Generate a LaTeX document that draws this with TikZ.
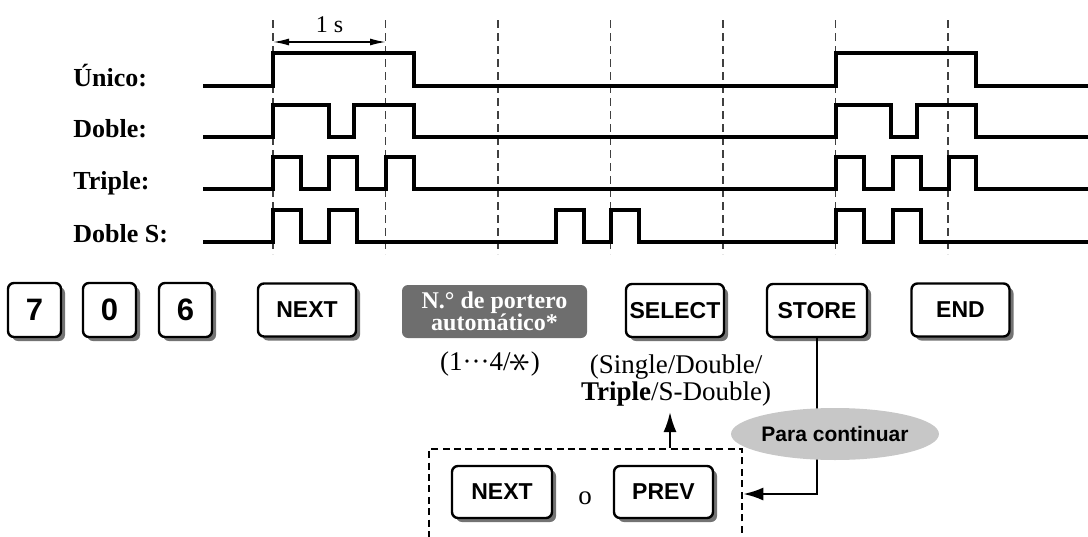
\documentclass[tikz,border=0pt]{standalone}
\usepackage{fontspec}
\setmainfont{Liberation Serif}
\setsansfont{Liberation Sans}
\usepackage{graphicx}
\usepackage{tikz}
\usetikzlibrary{arrows.meta, shapes.geometric, shadows}

\begin{document}
\begin{tikzpicture}[x=0.5pt, y=-0.5pt,
    wave/.style={line width=2pt},
    grid/.style={black!75, line width=0.8pt, dash pattern=on 4pt off 2.5pt},
    lbl/.style={font=\bfseries\fontsize{13}{13}\selectfont, anchor=base west, inner sep=0pt},
    txt/.style={font=\fontsize{13.5}{13.5}\selectfont, inner sep=1pt},
    key/.style={draw, line width=1.2pt, rounded corners=3pt, fill=white,
        font=\sffamily\bfseries\fontsize{11.5}{12}\selectfont,
        minimum width=49pt, minimum height=26.5pt, inner sep=0pt,
        drop shadow={shadow xshift=2pt, shadow yshift=-2pt, fill=black!55, opacity=1}},
    digit/.style={key, font=\sffamily\bfseries\fontsize{15.5}{16}\selectfont,
        minimum width=26.5pt, minimum height=27pt},
    arr/.style={line width=1.1pt, -{Latex[length=10pt, width=6.5pt]}}]
    \useasboundingbox (0,0) rectangle (1088,536);

    % Time grid
    \foreach \i in {0,...,6}
        \draw[grid] (273+112.5*\i, 20) -- (273+112.5*\i, 254);
    \draw[line width=0.8pt, {Latex[length=8pt, width=3.5pt]}-{Latex[length=8pt, width=3.5pt]}] (273,42) -- (386,42);
    \node[txt, font=\fontsize{12}{12}\selectfont] (sec) at (329.5,25) {1 s};

    % Ring patterns
    \node[lbl] (unico) at (73,86) {Único:};
    \node[lbl] (doble) at (73,137) {Doble:};
    \node[lbl] (triple) at (73,189) {Triple:};
    \node[lbl] (dobles) at (73,242) {Doble S:};

    \draw[wave] (203,86) -| (273,53) -| (414,86) -| (836,53) -| (976,86) -- (1088,86);
    \draw[wave] (203,137) -| (273,105) -| (329,137) -| (354,105) -| (414,137)
        -| (836,105) -| (891,137) -| (917,105) -| (976,137) -- (1088,137);
    \draw[wave] (203,189) -| (273,157) -| (301,189) -| (329,157) -| (357,189) -| (386,157) -| (414,189)
        -| (836,157) -| (864,189) -| (893,157) -| (921,189) -| (949,157) -| (976,189) -- (1088,189);
    \draw[wave] (203,242) -| (273,210) -| (301,242) -| (329,210) -| (357,242)
        -| (556,210) -| (584,242) -| (611,210) -| (639,242)
        -| (836,210) -| (864,242) -| (893,210) -| (921,242) -- (1088,242);

    % Keys
    \node[digit] (k7) at (34.5,310) {7};
    \node[digit] (k0) at (109.5,310) {0};
    \node[digit] (k6) at (185.5,310) {6};
    \node[key] (next) at (307,310) {NEXT};
    \node[fill=black!57, rounded corners=3pt, text=white, align=center, inner sep=0pt,
        minimum width=92.5pt, minimum height=26.5pt,
        font=\bfseries\fontsize{12}{11}\selectfont] (door) at (494.5,311.5) {N.° de portero\\automático*};
    \node[key] (select) at (675,310.5) {SELECT};
    \node[key, minimum width=50pt] (store) at (817,310.5) {STORE};
    \node[key] (end) at (960.5,310) {END};

    % Choices
    \node[txt] (range) at (490,364) {(1···4/\raisebox{-1.2pt}{\rotatebox{90}{\scalebox{1.5}{$\ast$}}})};
    \node[txt, align=center] (modes) at (676,381) {(Single/Double/\\\textbf{Triple}/S-Double)};

    % Loop
    \node[draw, line width=1.3pt, dash pattern=on 3.5pt off 2.2pt,
        minimum width=156.5pt, minimum height=45pt] (loop) at (585.5,494) {};
    \node[key, minimum width=50pt, minimum height=26pt] (next2) at (502,492) {NEXT};
    \node[txt] (or) at (585,498) {o};
    \node[key, minimum width=49.5pt, minimum height=26pt] (prev) at (663.5,492) {PREV};

    \draw[arr] (store.south) |- (loop.east);
    \node[ellipse, fill=black!22, inner sep=0pt, minimum width=83pt, minimum height=26pt,
        font=\sffamily\bfseries\fontsize{10.5}{11}\selectfont] (more) at (835,434) {Para continuar};
    \draw[arr] (loop.north -| 670,0) -- (670,412);
\end{tikzpicture}
\end{document}
